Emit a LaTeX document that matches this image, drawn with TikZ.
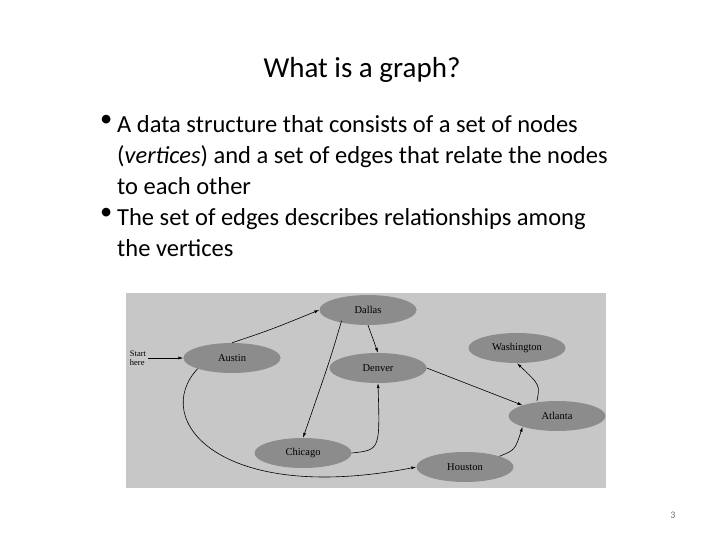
\documentclass[tikz,border=0pt]{standalone}
\usepackage{fontspec}
\setmainfont{Carlito}
\newfontfamily\gserif{Liberation Serif}
\usetikzlibrary{shapes.geometric,arrows.meta}
\begin{document}
\begin{tikzpicture}[x=1pt,y=-1pt,
  city/.style={ellipse,fill=black!45,minimum width=97pt,minimum height=30pt,inner sep=0pt,font=\gserif\fontsize{10.5}{11}\selectfont},
  arr/.style={-{Latex[length=5pt,width=3pt]},line width=0.6pt},
  bul/.style={anchor=north west,font=\fontsize{24.5}{31}\selectfont,align=left,inner sep=0pt}]
\useasboundingbox (0,0) rectangle (720,540);
\fill[white] (0,0) rectangle (720,540);
\node[font=\fontsize{29}{32}\selectfont] (title) at (362,70) {What is a graph?};
\node[bul] (b1) at (100,115) {•};
\node[bul] (t1) at (117,115) {A data structure that consists of a set of nodes\\ (\textit{vertices}) and a set of edges that relate the nodes\\ to each other};
\node[bul] (b2) at (100,208) {•};
\node[bul] (t2) at (117,208) {The set of edges describes relationships among\\ the vertices};
\fill[black!22] (126,293) rectangle (606,488);
\node[city] (dallas) at (368,310) {Dallas};
\node[city] (austin) at (232,358) {Austin};
\node[city] (denver) at (378,368) {Denver};
\node[city] (wash) at (517,348) {Washington};
\node[city] (atlanta) at (557,416) {Atlanta};
\node[city] (chicago) at (303,453) {Chicago};
\node[city] (houston) at (465,467) {Houston};
\node[font=\gserif\fontsize{8.5}{9}\selectfont,align=left,inner sep=0pt] (start) at (138,358) {Start\\here};
\draw[arr] (start.east) ++(2,0) coordinate (s0) (s0) -- (austin.west);
\draw[arr] (austin.north) .. controls (270,330) .. (dallas.west);
\draw[arr] (dallas.south) -- (denver.north);
\draw[arr] (dallas.south west) ++(8,0) coordinate (d0) (d0) .. controls (330,360) .. (chicago.north);
\draw[arr] (chicago.east) .. controls (380,450) .. (denver.south);
\draw[arr] (denver.east) -- (atlanta.north west);
\draw[arr] (atlanta.north) ++(-20,0) coordinate (a0) (a0) .. controls (540,385) .. (wash.south);
\draw[arr] (houston.north east) .. controls (515,450) .. (atlanta.south west);
\draw[arr] (austin.south west) .. controls (150,420) and (220,505) .. (houston.west);
\node[text=black!55,font=\fontsize{10}{12}\selectfont] (pg) at (673,515) {3};
\end{tikzpicture}
\end{document}
